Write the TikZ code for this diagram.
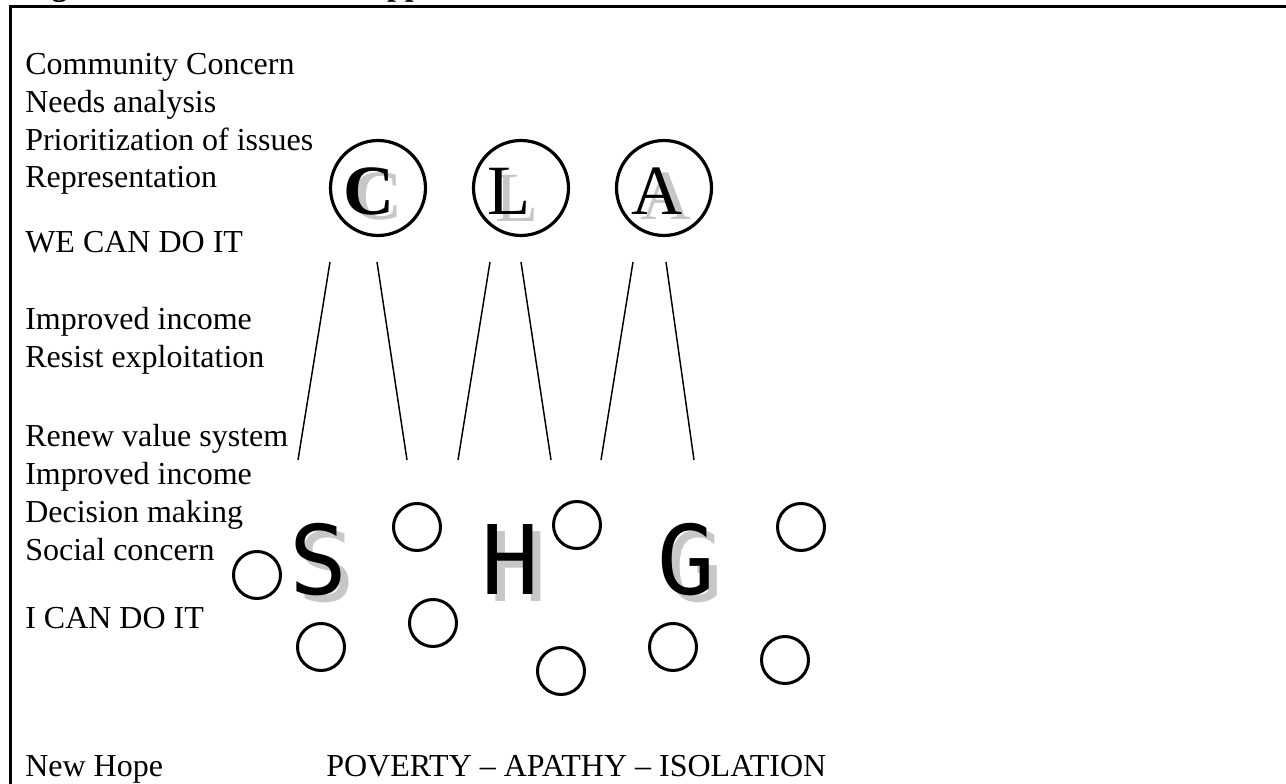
\documentclass[tikz,border=0pt]{standalone}
\usepackage{fontspec}
\setmainfont{Liberation Serif}
\newfontfamily\shgfont{DejaVu Sans Mono}
\begin{document}
\begin{tikzpicture}[x=0.75pt,y=-0.75pt,
  txt/.style={anchor=base west, inner sep=0, font=\fontsize{24}{28}\selectfont},
  ring/.style={circle, draw, line width=2.4pt, minimum size=71.25pt, inner sep=0},
  dot/.style={circle, draw, line width=2.25pt, minimum size=35.25pt, inner sep=0},
  bigletter/.style={anchor=base, inner sep=0, font=\fontsize{53}{60}\selectfont},
  shgletter/.style={anchor=base, inner sep=0, font=\shgfont\fontsize{72}{80}\selectfont},
  shade/.style={text=black!22},
  tie/.style={line width=1.1pt}]
\useasboundingbox (0,0) rectangle (1286,784);

% outer frame (open to the right and below)
\draw[line width=2.25pt] (1300,7) -- (10,7) -- (10,800);
\node[anchor=base west, inner sep=0, font=\bfseries\fontsize{24}{28}\selectfont] (title) at (23,-4) {Figure 1: Levels of SHG Approach};

% left column of levels
\node[txt] (t1) at (25,75) {Community Concern};
\node[txt] (t2) at (25,113) {Needs analysis};
\node[txt] (t3) at (25,151) {Prioritization of issues};
\node[txt] (t4) at (25,188) {Representation};
\node[txt] (t5) at (25,253) {WE CAN DO IT};
\node[txt] (t6) at (25,330) {Improved income};
\node[txt] (t7) at (25,368) {Resist exploitation};
\node[txt] (t8) at (25,446) {Renew value system};
\node[txt] (t9) at (25,484) {Improved income};
\node[txt] (t10) at (25,522) {Decision making};
\node[txt] (t11) at (25,560) {Social concern};
\node[txt] (t12) at (25,628) {I CAN DO IT};
\node[txt] (t13) at (25,776) {New Hope};
\node[txt] (t14) at (326,776) {POVERTY -- APATHY -- ISOLATION};

% C L A rings
\node[ring] (rc) at (378,188) {};
\node[ring] (rl) at (521,188) {};
\node[ring] (ra) at (664,188) {};
\node[bigletter,shade,font=\bfseries\fontsize{53}{60}\selectfont] (cs) at (377,220) {C};
\node[bigletter,font=\bfseries\fontsize{53}{60}\selectfont] (cb) at (369,215) {C};
\node[bigletter,shade] (ls) at (517,222) {L};
\node[bigletter] (lb) at (509,215) {L};
\node[bigletter,shade] (as) at (666,220) {A};
\node[bigletter] (ab) at (657,215) {A};

% S H G letters
\node[shgletter,shade] (ss) at (326,601) {S};
\node[shgletter] (sb) at (318,594) {S};
\node[shgletter,shade] (hs) at (518,601) {H};
\node[shgletter] (hb) at (510,594) {H};
\node[shgletter,shade] (gs) at (694,601) {G};
\node[shgletter] (gb) at (686,594) {G};

% group members
\node[dot] (d1) at (257,575) {};
\node[dot] (d2) at (417,527) {};
\node[dot] (d3) at (577,525) {};
\node[dot] (d4) at (801,527) {};
\node[dot] (d5) at (321,647) {};
\node[dot] (d6) at (433,623) {};
\node[dot] (d7) at (561,671) {};
\node[dot] (d8) at (673,647) {};
\node[dot] (d9) at (785,660) {};

% ties between levels
\coordinate (c1t) at (330,262); \coordinate (c1b) at (298,460);
\coordinate (c2t) at (377,262); \coordinate (c2b) at (407,460);
\coordinate (l1t) at (490,262); \coordinate (l1b) at (458,460);
\coordinate (l2t) at (521,262); \coordinate (l2b) at (551,460);
\coordinate (a1t) at (633,262); \coordinate (a1b) at (601,460);
\coordinate (a2t) at (666,262); \coordinate (a2b) at (694,460);
\draw[tie] (c1t) -- (c1b);
\draw[tie] (c2t) -- (c2b);
\draw[tie] (l1t) -- (l1b);
\draw[tie] (l2t) -- (l2b);
\draw[tie] (a1t) -- (a1b);
\draw[tie] (a2t) -- (a2b);
\end{tikzpicture}
\end{document}
